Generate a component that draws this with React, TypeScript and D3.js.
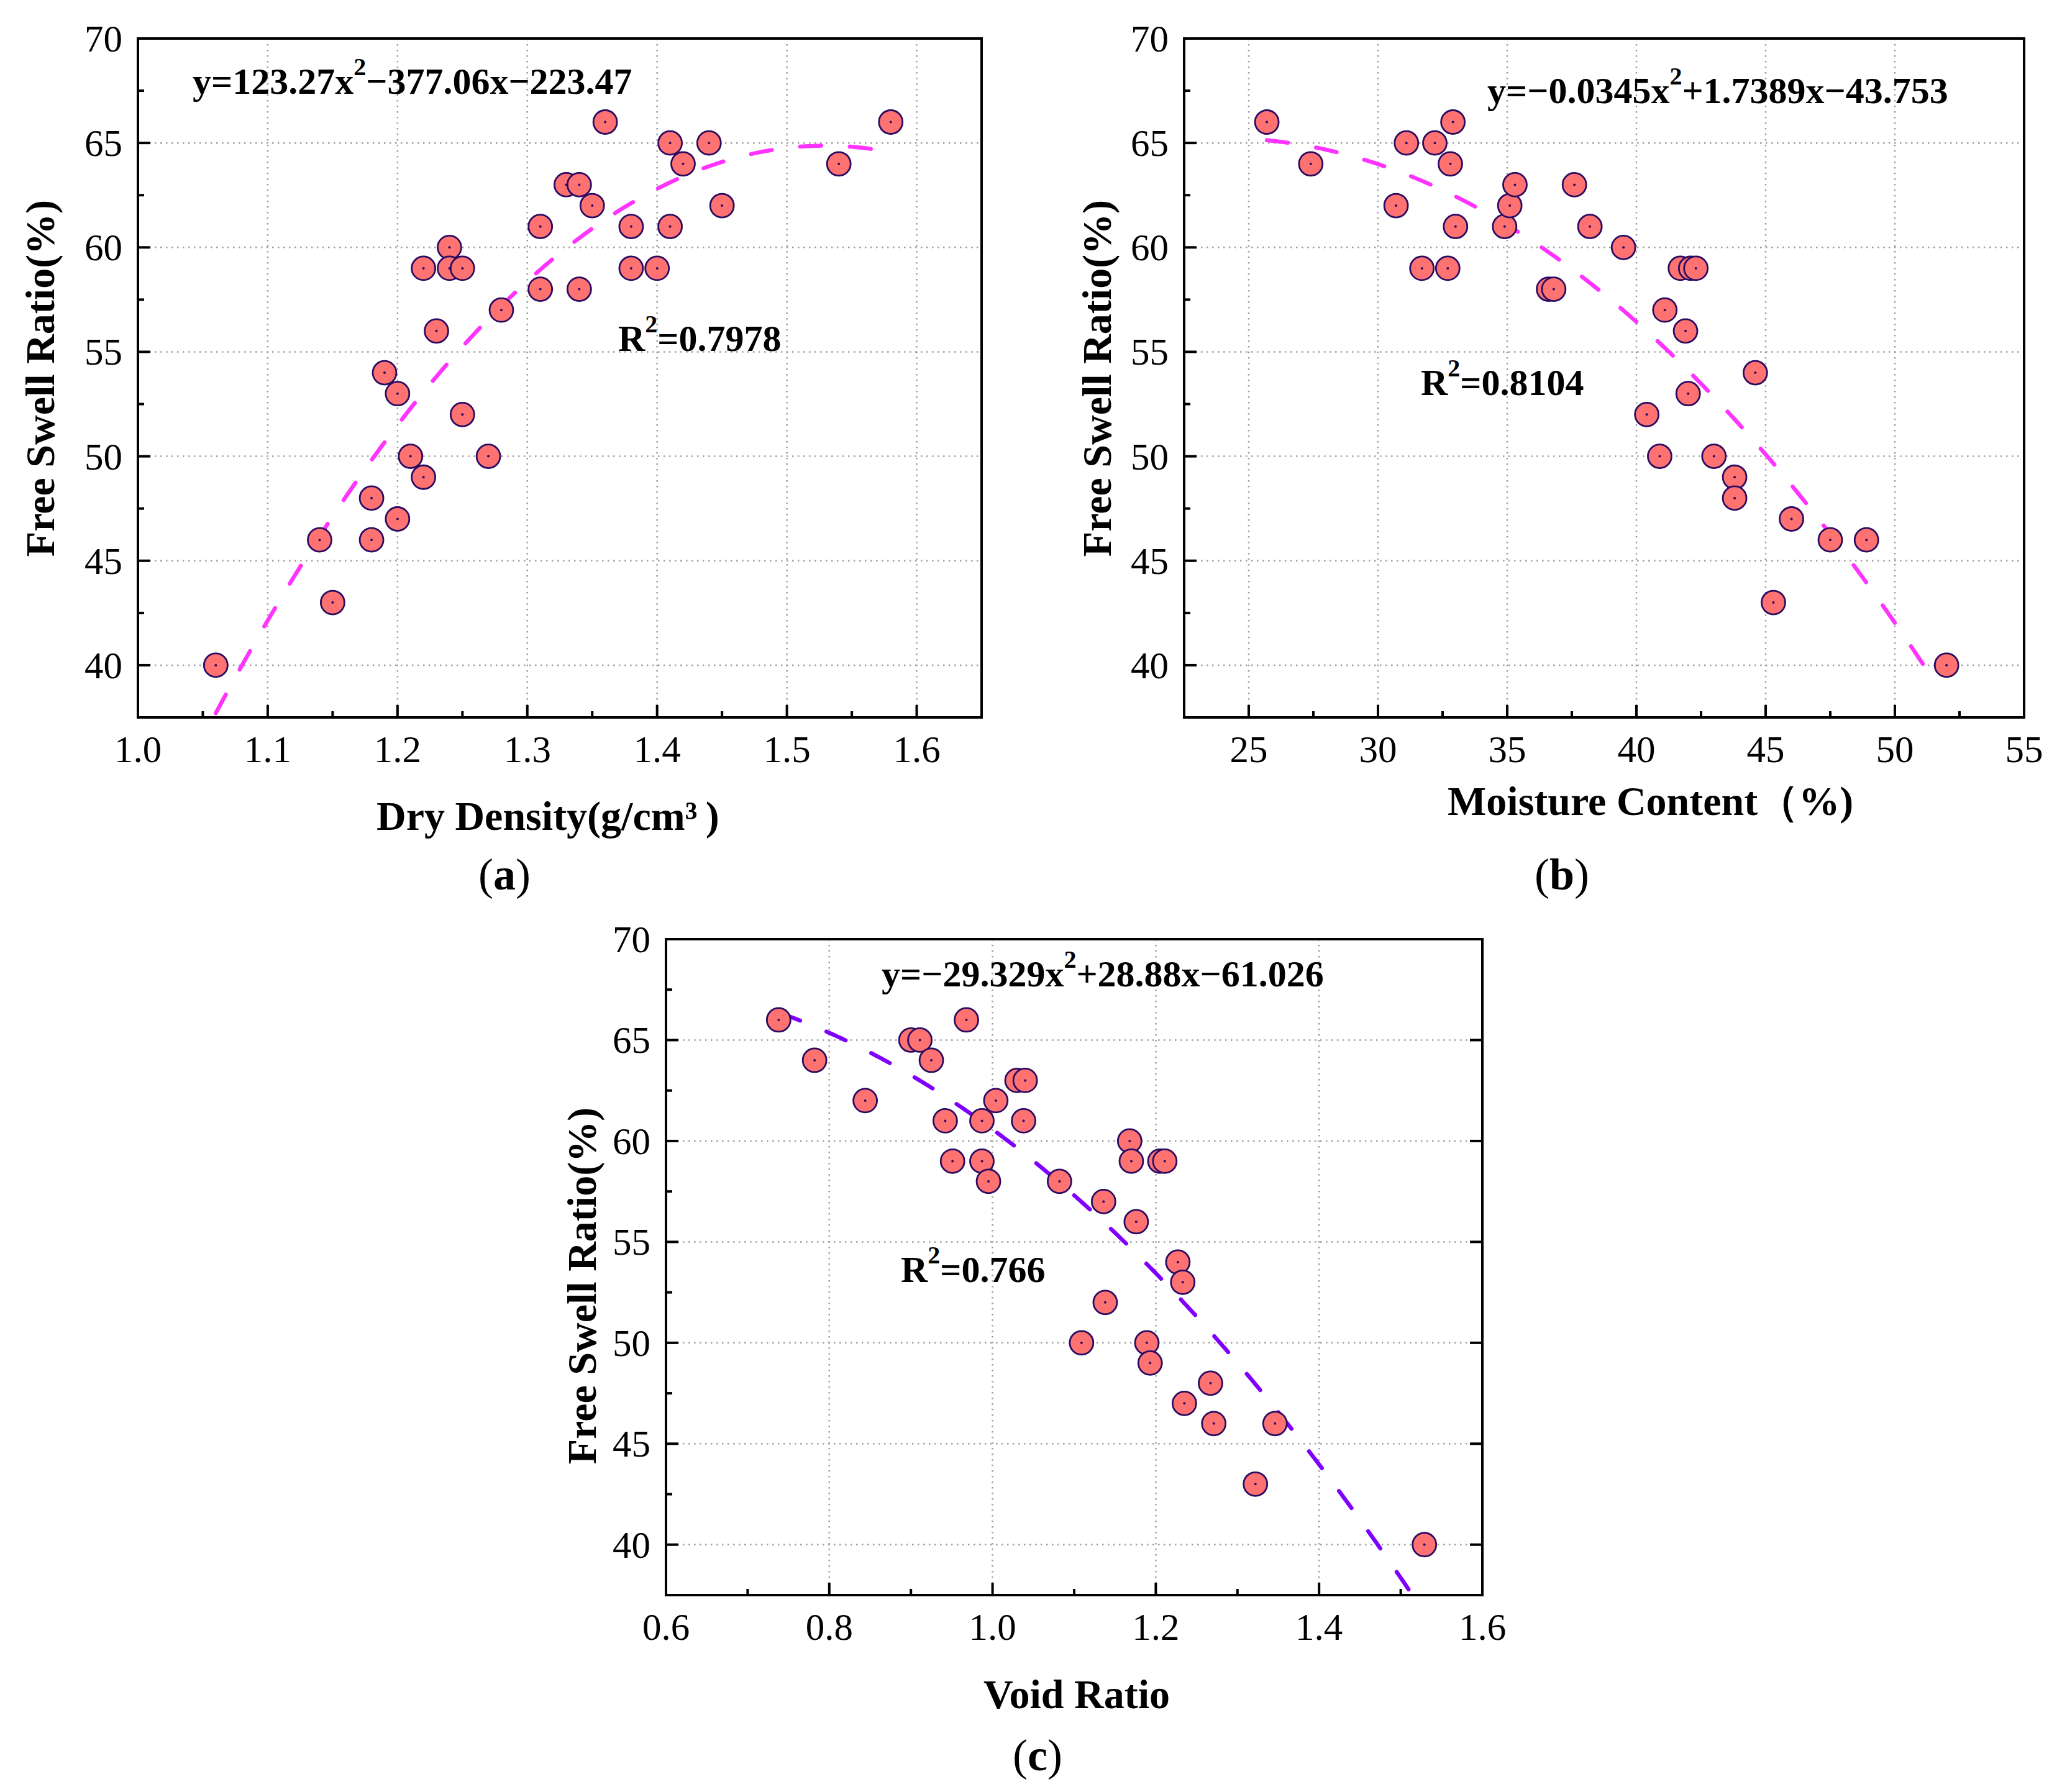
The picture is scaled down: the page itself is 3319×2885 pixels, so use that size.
import * as d3 from "d3"

const W = 3319
const H = 2885
const SERIF = "'Liberation Serif', 'Times New Roman', Times, serif"

// (a) dry density vs free swell ratio
const DRY_DENSITY = [1.06, 1.15, 1.14, 1.18, 1.18, 1.2, 1.21, 1.22, 1.19, 1.2, 1.25, 1.27, 1.23, 1.22, 1.24, 1.24, 1.25, 1.28, 1.31, 1.31, 1.33, 1.34, 1.35, 1.34, 1.36, 1.38, 1.38, 1.4, 1.41, 1.41, 1.42, 1.44, 1.45, 1.54, 1.58]
const SWELL_A = [40, 43, 46, 46, 48, 47, 50, 49, 54, 53, 52, 50, 56, 59, 60, 59, 59, 57, 61, 58, 63, 63, 62, 58, 66, 61, 59, 59, 65, 61, 64, 65, 62, 64, 66]

// (b) moisture content vs free swell ratio
const MOISTURE = [25.7, 27.4, 30.7, 31.1, 31.7, 32.2, 32.7, 32.8, 32.9, 33.0, 34.9, 35.1, 35.3, 36.6, 36.8, 37.6, 38.2, 39.5, 40.4, 40.9, 41.1, 41.7, 41.9, 42.0, 42.1, 42.3, 43.0, 43.8, 43.8, 44.6, 45.3, 46.0, 47.5, 48.9, 52.0]
const SWELL_B = [66, 64, 62, 65, 59, 65, 59, 64, 66, 61, 61, 62, 63, 58, 58, 63, 61, 60, 52, 50, 57, 59, 56, 53, 59, 59, 50, 49, 48, 54, 43, 47, 46, 46, 40]

// (c) void ratio vs free swell ratio
const VOID_RATIO = [0.738, 0.782, 0.844, 0.9, 0.911, 0.925, 0.968, 0.942, 0.951, 0.987, 0.987, 0.995, 1.004, 1.03, 1.04, 1.038, 1.082, 1.136, 1.138, 1.109, 1.168, 1.17, 1.176, 1.205, 1.211, 1.189, 1.193, 1.227, 1.233, 1.235, 1.267, 1.271, 1.346, 1.322, 1.529]
const SWELL_C = [66, 64, 62, 65, 65, 64, 66, 61, 59, 61, 59, 58, 62, 63, 63, 61, 58, 57, 52, 50, 60, 59, 56, 59, 59, 50, 49, 54, 53, 47, 48, 46, 46, 43, 40]

// quadratic fits [a, b, c] for y = a x^2 + b x + c, and the x-span drawn
const FIT_A = [-123.27, 377.06, -223.47]
const FIT_A_RANGE = [1.06, 1.58]
const FIT_B = [-0.03427, 1.6437, 45.52]
const FIT_B_RANGE = [25.7, 51.5]
const FIT_C = [-29.329, 28.88, 61.026]
const FIT_C_RANGE = [0.74, 1.515]

const X_TICKS_A = [1.0, 1.1, 1.2, 1.3, 1.4, 1.5, 1.6]
const X_TICKS_B = [25, 30, 35, 40, 45, 50, 55]
const X_TICKS_C = [0.6, 0.8, 1.0, 1.2, 1.4, 1.6]
const Y_TICKS = [40, 45, 50, 55, 60, 65, 70]
const Y_DOMAIN = [37.5, 70]

const Y_TITLE = "Free Swell Ratio(%)"

const FILL = "#ff7272"
const EDGE = "#2b0b62"

interface Box { left: number; right: number; top: number; bottom: number }

interface PanelProps {
  id: string
  box: Box
  xDomain: number[]
  xTicks: number[]
  xFmt: (v: number) => string
  xs: number[]
  ys: number[]
  fit: number[]
  fitRange: number[]
  lineColor: string
  rightTicks?: boolean
  eq: { x: number; y: number; pre: string; post: string }
  r2: { x: number; y: number; value: string }
  xTitle: { x: number; y: number; text: string; anchor: "start" | "middle" }
  yTitle: { x: number; y: number }
  label: { x: number; y: number; letter: string }
}

const poly = (c: number[], v: number) => c[0] * v * v + c[1] * v + c[2]

function Panel(p: PanelProps) {
  const { box } = p
  const x = d3.scaleLinear().domain(p.xDomain).range([box.left, box.right])
  const y = d3.scaleLinear().domain(Y_DOMAIN).range([box.bottom, box.top])

  const xMinor = d3.pairs(p.xTicks).map(([a, b]) => (a + b) / 2)
  const yMinor = d3.pairs(Y_TICKS).map(([a, b]) => (a + b) / 2)

  const samples = d3.range(0, 301).map((i) => p.fitRange[0] + ((p.fitRange[1] - p.fitRange[0]) * i) / 300)
  const line = d3
    .line<number>()
    .x((v) => x(v))
    .y((v) => y(poly(p.fit, v)))
  const inside = (v: number, d: number[]) => v > d[0] + 1e-9 && v < d[1] - 1e-9

  return (
    <g>
      <defs>
        <clipPath id={`clip-${p.id}`}>
          <rect x={box.left} y={box.top} width={box.right - box.left} height={box.bottom - box.top} />
        </clipPath>
      </defs>

      {/* grid */}
      <g stroke="#9e9e9e" strokeWidth={2.5} strokeDasharray="2.5 6.5">
        {p.xTicks.filter((t) => inside(t, p.xDomain)).map((t) => (
          <line key={`gx${t}`} x1={x(t)} x2={x(t)} y1={box.top} y2={box.bottom} />
        ))}
        {Y_TICKS.filter((t) => inside(t, Y_DOMAIN)).map((t) => (
          <line key={`gy${t}`} x1={box.left} x2={box.right} y1={y(t)} y2={y(t)} />
        ))}
      </g>

      {/* fitted curve */}
      <path
        d={line(samples) ?? ""}
        fill="none"
        stroke={p.lineColor}
        strokeWidth={6.5}
        strokeDasharray="34 46"
        strokeLinecap="round"
        clipPath={`url(#clip-${p.id})`}
      />

      {/* points */}
      {p.xs.map((v, i) => (
        <g key={`pt${i}`}>
          <circle cx={x(v)} cy={y(p.ys[i])} r={19} fill={FILL} stroke={EDGE} strokeWidth={2.8} />
          <circle cx={x(v)} cy={y(p.ys[i])} r={2} fill={EDGE} />
        </g>
      ))}

      {/* ticks */}
      <g stroke="#000" strokeWidth={4}>
        {p.xTicks.map((t) => (
          <line key={`tx${t}`} x1={x(t)} x2={x(t)} y1={box.bottom} y2={box.bottom - 20} />
        ))}
        {xMinor.map((t) => (
          <line key={`mx${t}`} x1={x(t)} x2={x(t)} y1={box.bottom} y2={box.bottom - 10} />
        ))}
        {Y_TICKS.map((t) => (
          <line key={`ty${t}`} x1={box.left} x2={box.left + 20} y1={y(t)} y2={y(t)} />
        ))}
        {yMinor.map((t) => (
          <line key={`my${t}`} x1={box.left} x2={box.left + 10} y1={y(t)} y2={y(t)} />
        ))}
        {p.rightTicks &&
          Y_TICKS.map((t) => (
            <line key={`ry${t}`} x1={box.right} x2={box.right - 20} y1={y(t)} y2={y(t)} />
          ))}
      </g>

      {/* frame */}
      <rect
        x={box.left}
        y={box.top}
        width={box.right - box.left}
        height={box.bottom - box.top}
        fill="none"
        stroke="#000"
        strokeWidth={4}
      />

      {/* tick labels */}
      <g style={{ fontFamily: SERIF }} fontSize={61} fill="#000">
        {p.xTicks.map((t) => (
          <text key={`lx${t}`} x={x(t)} y={box.bottom + 72} textAnchor="middle">
            {p.xFmt(t)}
          </text>
        ))}
        {Y_TICKS.map((t) => (
          <text key={`ly${t}`} x={box.left - 25} y={y(t) + 21} textAnchor="end">
            {t}
          </text>
        ))}
      </g>

      {/* equation and R² */}
      <text x={p.eq.x} y={p.eq.y} style={{ fontFamily: SERIF }} fontWeight="bold" fontSize={60}>
        {p.eq.pre}
        <tspan fontSize={40} dy={-30}>2</tspan>
        <tspan dy={30}>{p.eq.post}</tspan>
      </text>
      <text x={p.r2.x} y={p.r2.y} style={{ fontFamily: SERIF }} fontWeight="bold" fontSize={60}>
        R<tspan fontSize={40} dy={-30}>2</tspan>
        <tspan dy={30}>={p.r2.value}</tspan>
      </text>

      {/* axis titles */}
      <text
        x={p.xTitle.x}
        y={p.xTitle.y}
        textAnchor={p.xTitle.anchor}
        style={{ fontFamily: SERIF }}
        fontWeight="bold"
        fontSize={66}
      >
        {p.xTitle.text}
      </text>
      <text
        transform={`translate(${p.yTitle.x},${p.yTitle.y}) rotate(-90)`}
        textAnchor="middle"
        style={{ fontFamily: SERIF }}
        fontWeight="bold"
        fontSize={66}
      >
        {Y_TITLE}
      </text>

      {/* panel label */}
      <text x={p.label.x} y={p.label.y} textAnchor="middle" style={{ fontFamily: SERIF }} fontSize={72}>
        (<tspan fontWeight="bold">{p.label.letter}</tspan>)
      </text>
    </g>
  )
}

export default function App() {
  return (
    <div style={{ position: "absolute", left: 0, top: 0, background: "#fff" }}>
      <svg width={W} height={H} viewBox={`0 0 ${W} ${H}`} style={{ display: "block" }}>
        <rect width={W} height={H} fill="#fff" />
        <Panel
          id="a"
          box={{ left: 222, right: 1580, top: 62, bottom: 1155 }}
          xDomain={[1.0, 1.65]}
          xTicks={X_TICKS_A}
          xFmt={(v) => v.toFixed(1)}
          xs={DRY_DENSITY}
          ys={SWELL_A}
          fit={FIT_A}
          fitRange={FIT_A_RANGE}
          lineColor="#ff33ff"
          eq={{ x: 310, y: 151, pre: "y=123.27x", post: "−377.06x−223.47" }}
          r2={{ x: 995, y: 565, value: "0.7978" }}
          xTitle={{ x: 606, y: 1336, text: "Dry Density(g/cm³\u2009)", anchor: "start" }}
          yTitle={{ x: 87, y: 609 }}
          label={{ x: 812, y: 1432, letter: "a" }}
        />
        <Panel
          id="b"
          box={{ left: 1906, right: 3258, top: 62, bottom: 1155 }}
          xDomain={[22.5, 55]}
          xTicks={X_TICKS_B}
          xFmt={(v) => String(v)}
          xs={MOISTURE}
          ys={SWELL_B}
          fit={FIT_B}
          fitRange={FIT_B_RANGE}
          lineColor="#ff33ff"
          eq={{ x: 2394, y: 166, pre: "y=−0.0345x", post: "+1.7389x−43.753" }}
          r2={{ x: 2287, y: 636, value: "0.8104" }}
          xTitle={{ x: 2330, y: 1312, text: "Moisture Content（%)", anchor: "start" }}
          yTitle={{ x: 1788, y: 609 }}
          label={{ x: 2514, y: 1432, letter: "b" }}
        />
        <Panel
          id="c"
          box={{ left: 1072, right: 2386, top: 1512, bottom: 2568 }}
          xDomain={[0.6, 1.6]}
          xTicks={X_TICKS_C}
          xFmt={(v) => v.toFixed(1)}
          xs={VOID_RATIO}
          ys={SWELL_C}
          fit={FIT_C}
          fitRange={FIT_C_RANGE}
          lineColor="#8000ff"
          rightTicks
          eq={{ x: 1419, y: 1588, pre: "y=−29.329x", post: "+28.88x−61.026" }}
          r2={{ x: 1450, y: 2064, value: "0.766" }}
          xTitle={{ x: 1733, y: 2750, text: "Void Ratio", anchor: "middle" }}
          yTitle={{ x: 959, y: 2070 }}
          label={{ x: 1670, y: 2850, letter: "c" }}
        />
      </svg>
    </div>
  )
}
